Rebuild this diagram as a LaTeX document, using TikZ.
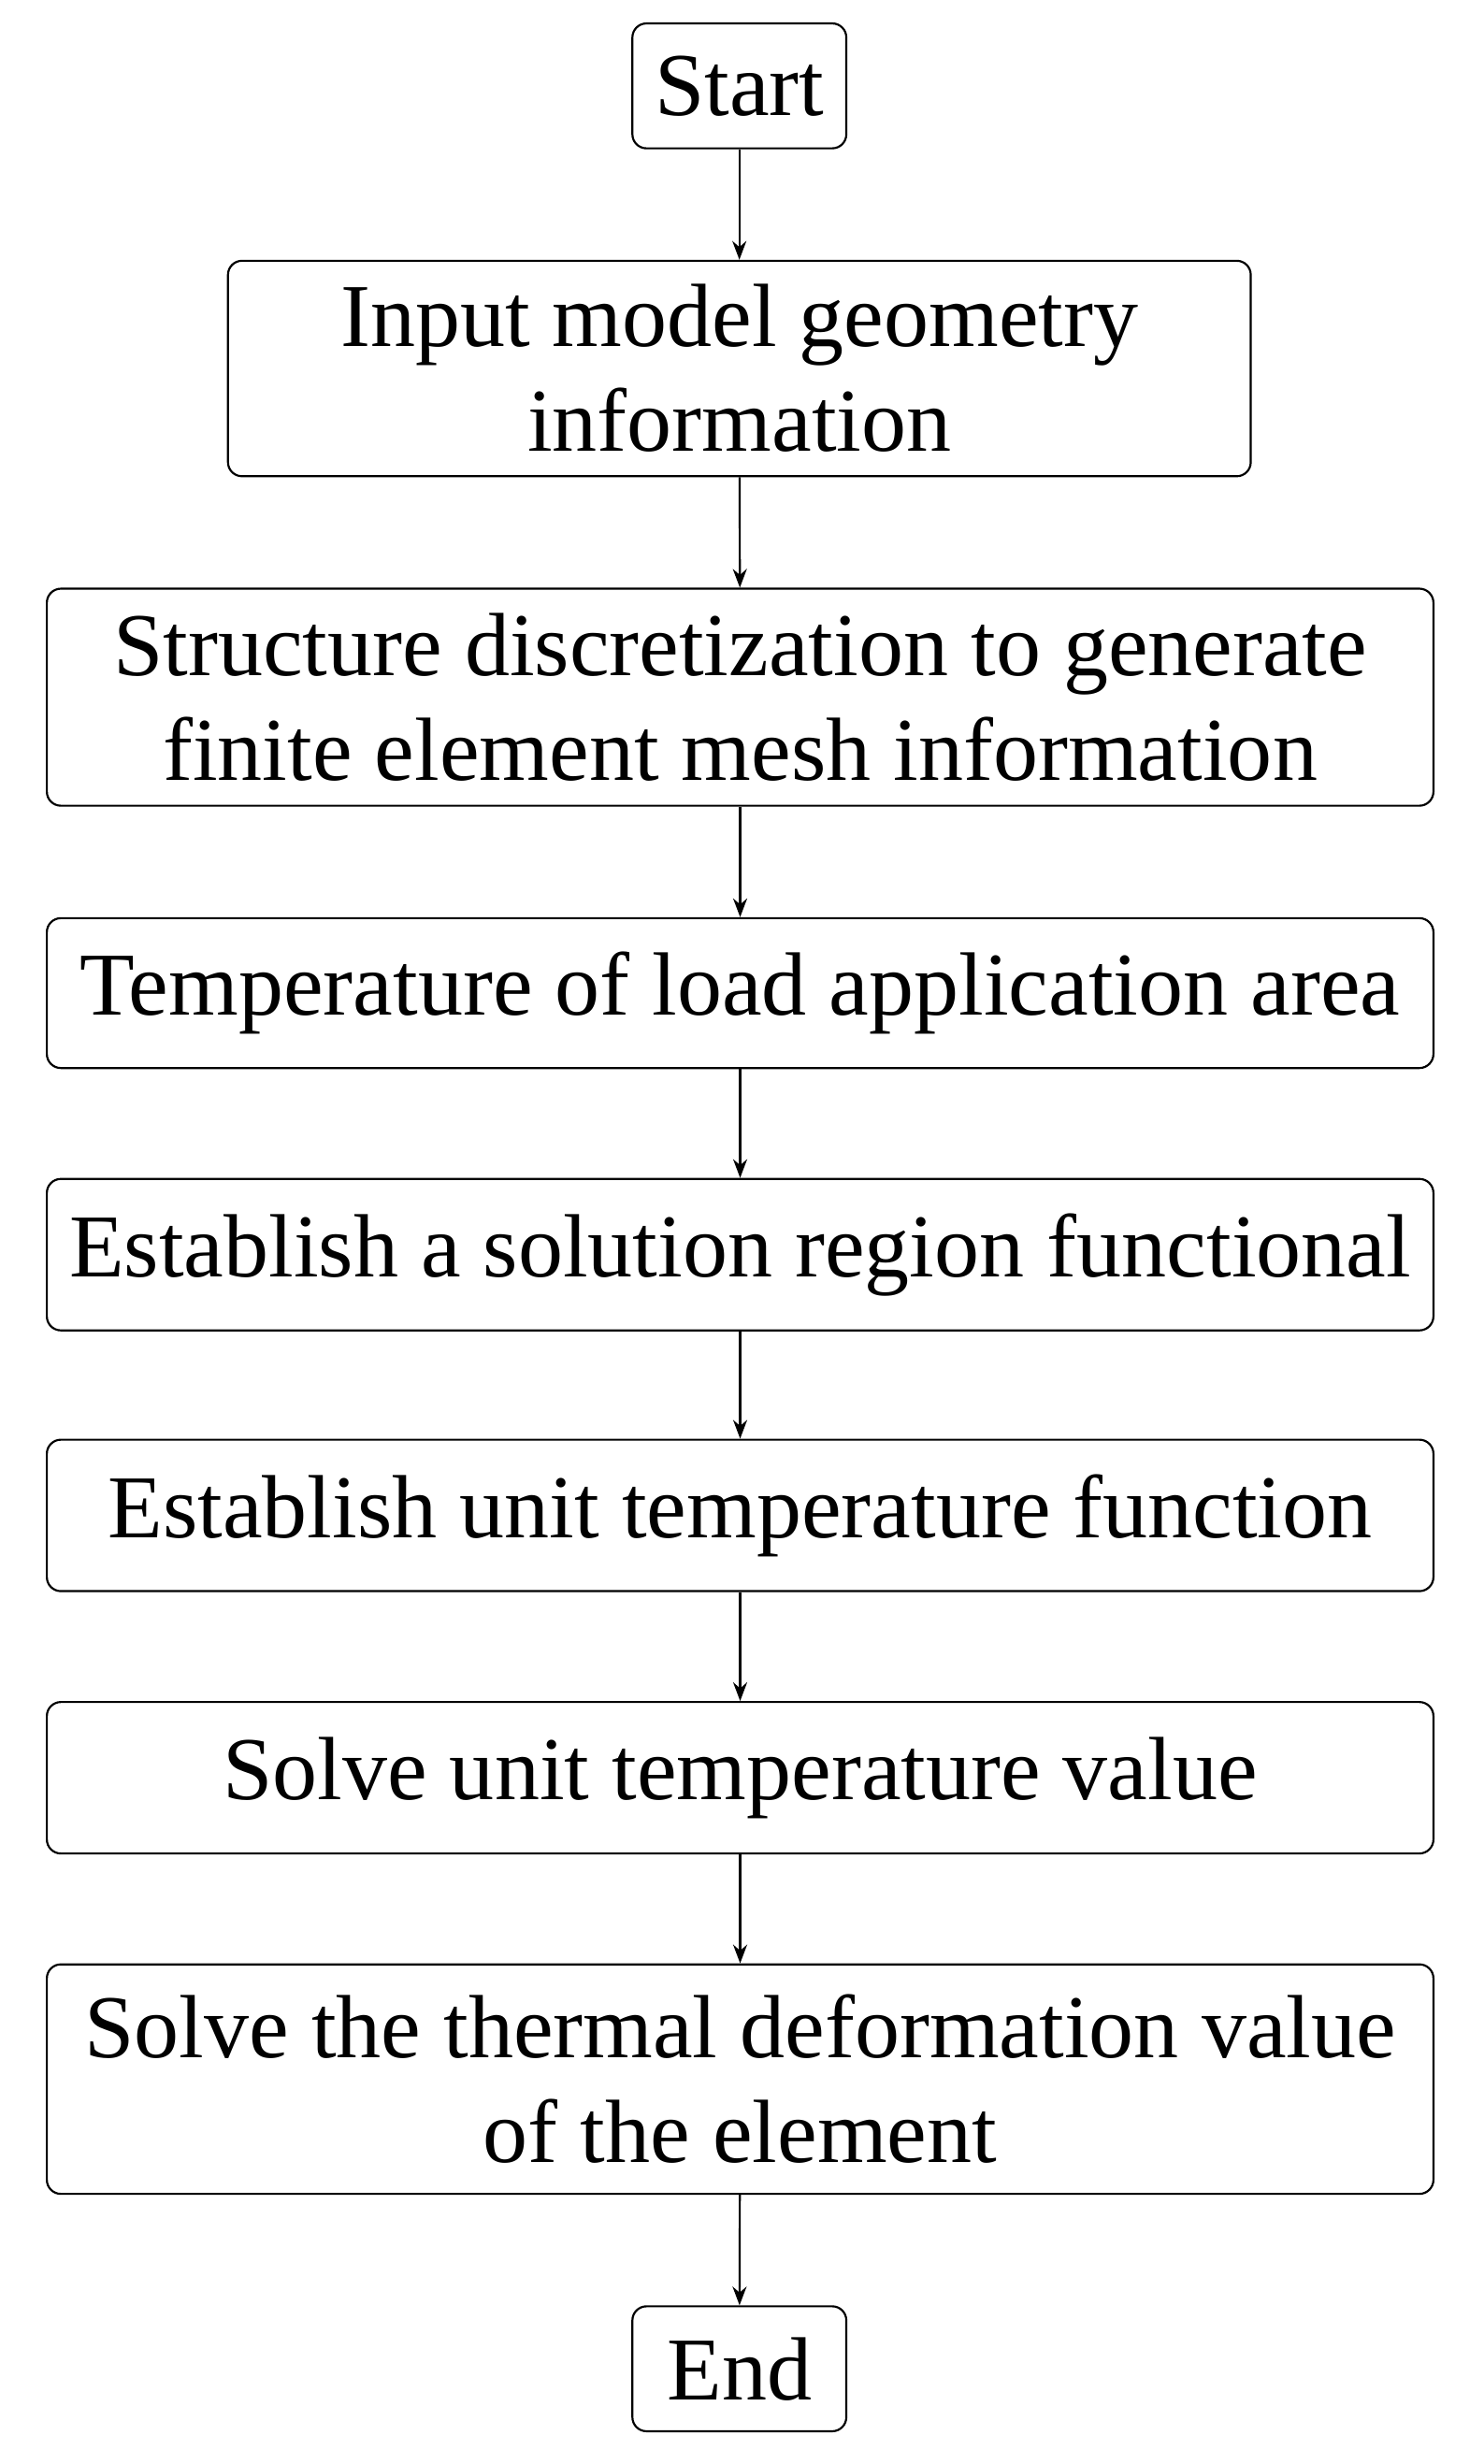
\documentclass[tikz,border=0pt]{standalone}
\usepackage{fontspec}
\setmainfont{Liberation Serif}
\usetikzlibrary{arrows.meta}
\begin{document}
\begin{tikzpicture}[x=1pt,y=-1pt,
  box/.style={draw,line width=1.3pt,rounded corners=9pt,align=center,inner sep=0pt,
    font=\fontsize{57.5}{67}\selectfont},
  arr/.style={draw,line width=1.3pt,-{Stealth[length=12pt,width=9pt]}}]
\useasboundingbox (0,0) rectangle (950,1578);
\node[box,minimum width=137pt,minimum height=80pt] (s) at (473.5,55) {Start};
\node[box,minimum width=655pt,minimum height=138pt] (a) at (473.5,236) {Input model geometry\\information};
\node[box,minimum width=888pt,minimum height=139pt] (b) at (474,446.5) {Structure discretization to generate\\finite element mesh information};
\node[box,minimum width=888pt,minimum height=96pt] (c) at (474,636) {Temperature of load application area};
\node[box,minimum width=888pt,minimum height=97pt] (d) at (474,803.5) {Establish a solution region functional};
\node[box,minimum width=888pt,minimum height=97pt] (e) at (474,970.5) {Establish unit temperature function};
\node[box,minimum width=888pt,minimum height=97pt] (f) at (474,1138.5) {Solve unit temperature value};
\node[box,minimum width=888pt,minimum height=147pt] (g) at (474,1331.5) {Solve the thermal deformation value\\of the element};
\node[box,minimum width=137pt,minimum height=80pt] (h) at (473.5,1517) {End};
\foreach \u/\v in {s/a,a/b,b/c,c/d,d/e,e/f,f/g,g/h} \draw[arr] (\u) -- (\v);
\end{tikzpicture}
\end{document}
